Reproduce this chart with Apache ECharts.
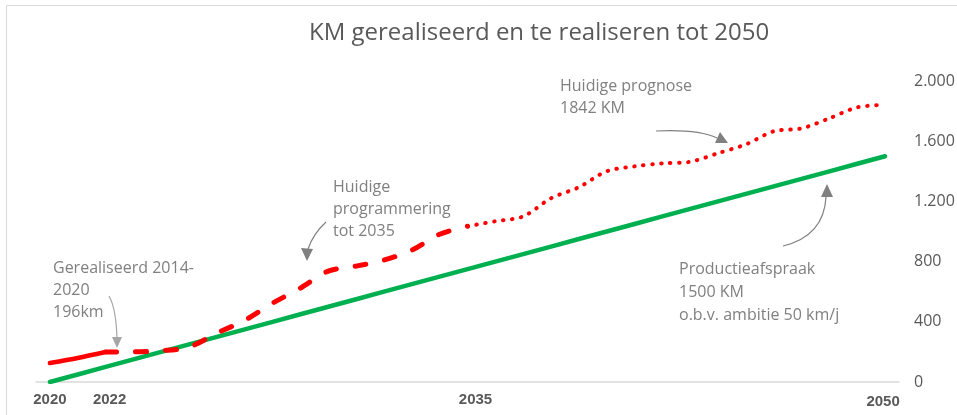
<!DOCTYPE html>
<html>
<head>
<meta charset="utf-8">
<title>KM gerealiseerd en te realiseren tot 2050</title>
<script src="https://cdn.jsdelivr.net/npm/echarts@6/dist/echarts.min.js"></script>
<style>
  html, body { margin: 0; padding: 0; background: #fff; }
  #chart { width: 957px; height: 415px; }
</style>
</head>
<body>
<div id="chart"></div>
<script>
// jaren op de x-as
const years = []
for (let y = 2020; y <= 2050; y++) years.push(String(y))
const shownYears = ['2020', '2022', '2035', '2050']

// gerealiseerd (doorgetrokken), programmering tot 2035 (streep), prognose (stippel)
const realised = [126, 160, 199]
const programmed = [199, 200, 208, 232, 325, 410, 524, 624, 737, 770, 810, 876, 982, 1035]
const forecast = [1035, 1068, 1100, 1221, 1294, 1400, 1433, 1453, 1463, 1520, 1579, 1666, 1685, 1752, 1825, 1842]
// productieafspraak 50 km/j
const agreement = [0, 50, 100, 150, 200, 250, 300, 350, 400, 450, 500, 550, 600, 650, 700, 750,
  800, 850, 900, 950, 1000, 1050, 1100, 1150, 1200, 1250, 1300, 1350, 1400, 1450, 1500]
const yTicks = [0, 400, 800, 1200, 1600, 2000]

// series op de volle jaren-as zetten
function place(values, startIdx) {
  const out = years.map(() => null)
  values.forEach((v, i) => { out[startIdx + i] = v })
  return out
}

const fmt = v => String(v).replace(/\B(?=(\d{3})+(?!\d))/g, '.')
const grey = '#808080'
const noteFont = '16px "Open Sans", sans-serif'
const yearLabel = { color: '#595959', fontFamily: 'Liberation Sans', fontWeight: 'bold', fontSize: 15 }

const chart = echarts.init(document.getElementById('chart'))
const option = {
  animation: false,
  title: {
    text: 'KM gerealiseerd en te realiseren tot 2050',
    left: 304,
    top: 16,
    textStyle: { fontFamily: 'Open Sans', fontWeight: 'normal', fontSize: 24, color: '#595959' }
  },
  grid: { left: 36, right: 58, top: 81, bottom: 33, containLabel: false, outerBoundsMode: 'none' },
  xAxis: {
    type: 'category',
    data: years,
    boundaryGap: true,
    axisLine: { lineStyle: { color: '#d9d9d9', width: 1.5 } },
    axisTick: { show: false },
    axisLabel: {
      interval: (i, v) => shownYears.indexOf(v) >= 0,
      margin: 10,
      formatter: v => '{y' + v + '|' + v + '}',
      rich: {
        y2020: Object.assign({}, yearLabel),
        y2022: Object.assign({ padding: [0, 0, 0, 8] }, yearLabel),
        y2035: Object.assign({ padding: [0, 0, 0, 16] }, yearLabel),
        y2050: Object.assign({ padding: [2, 4, 0, 0] }, yearLabel)
      }
    }
  },
  yAxis: {
    type: 'value',
    position: 'right',
    min: yTicks[0],
    max: yTicks[yTicks.length - 1],
    interval: 400,
    axisLine: { show: false },
    axisTick: { show: false },
    splitLine: { show: false },
    axisLabel: { color: '#595959', fontFamily: 'Open Sans', fontSize: 16, margin: 15, formatter: fmt }
  },
  series: [
    {
      type: 'line', data: agreement, symbol: 'none', z: 2,
      lineStyle: { color: '#00b050', width: 4.5, cap: 'round' }
    },
    {
      type: 'line', data: place(realised, 0), symbol: 'none', smooth: 0.3, z: 3,
      lineStyle: { color: '#ff0000', width: 4.5, cap: 'round' }
    },
    {
      type: 'line', data: place(programmed, 2), symbol: 'none', smooth: 0.3, z: 3,
      lineStyle: { color: '#ff0000', width: 5, type: [11, 19], cap: 'round' }
    },
    {
      type: 'line', data: place(forecast, 15), symbol: 'none', smooth: 0.3, z: 3,
      lineStyle: { color: '#ff0000', width: 4, type: [0.5, 8.5], cap: 'round' }
    }
  ],
  graphic: [
    // kader
    { type: 'rect', shape: { x: 6.5, y: 5.5, width: 1000, height: 500 }, style: { fill: 'none', stroke: '#d9d9d9', lineWidth: 1 }, silent: true },
    // teksten
    { type: 'text', x: 53, y: 257, style: { text: 'Gerealiseerd 2014-\n2020\n196km', font: noteFont, fill: grey, lineHeight: 22 } },
    { type: 'text', x: 333, y: 176, style: { text: 'Huidige\nprogrammering\ntot 2035', font: noteFont, fill: grey, lineHeight: 22 } },
    { type: 'text', x: 560, y: 75, style: { text: 'Huidige prognose\n1842 KM', font: noteFont, fill: grey, lineHeight: 22 } },
    { type: 'text', x: 679, y: 258, style: { text: 'Productieafspraak\n1500 KM\no.b.v. ambitie 50 km/j', font: noteFont, fill: grey, lineHeight: 23 } },
    // pijlen
    { type: 'bezierCurve', shape: { x1: 109, y1: 296, x2: 117, y2: 338, cpx1: 116, cpy1: 308 }, style: { stroke: '#a6a6a6', lineWidth: 1.2, fill: 'none' } },
    { type: 'polygon', shape: { points: [[117, 348], [112, 337], [122, 337]] }, style: { fill: '#a6a6a6' } },
    { type: 'bezierCurve', shape: { x1: 326, y1: 222, x2: 308, y2: 249, cpx1: 313, cpy1: 234 }, style: { stroke: grey, lineWidth: 1.2, fill: 'none' } },
    { type: 'polygon', shape: { points: [[307, 261], [301, 248], [313, 249]] }, style: { fill: grey } },
    { type: 'bezierCurve', shape: { x1: 656, y1: 131, x2: 717, y2: 138, cpx1: 698, cpy1: 129 }, style: { stroke: grey, lineWidth: 1.2, fill: 'none' } },
    { type: 'polygon', shape: { points: [[728, 143], [715, 143], [720, 132]] }, style: { fill: grey } },
    { type: 'bezierCurve', shape: { x1: 783, y1: 246, x2: 826, y2: 197, cpx1: 824, cpy1: 236 }, style: { stroke: grey, lineWidth: 1.2, fill: 'none' } },
    { type: 'polygon', shape: { points: [[827, 184], [821, 197], [833, 197]] }, style: { fill: grey } }
  ]
}
chart.setOption(option)
</script>
</body>
</html>
